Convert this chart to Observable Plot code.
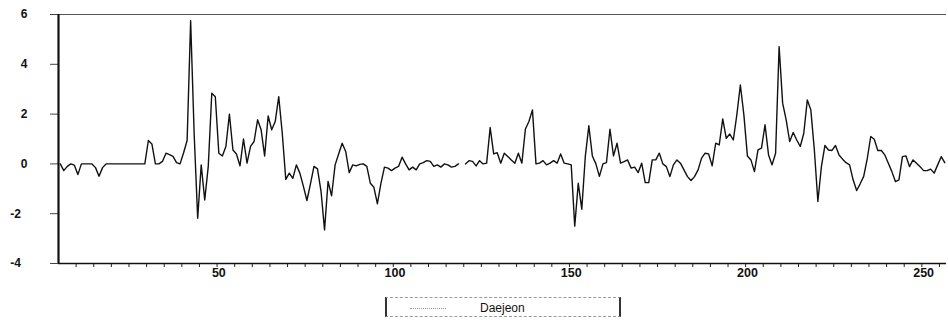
<!DOCTYPE html>
<html>
<head>
<meta charset="utf-8">
<script src="https://cdn.jsdelivr.net/npm/d3@7"></script>
<script src="https://cdn.jsdelivr.net/npm/@observablehq/plot@0.6"></script>
<style>
  html, body { margin: 0; padding: 0; background: #fff; }
  body { width: 948px; height: 323px; overflow: hidden; font-family: "Liberation Sans", Arial, sans-serif; }
  #legend { position: relative; width: 948px; height: 43px; }
  #legend .box { position: absolute; left: 385px; top: 17px; width: 236px; height: 20px;
    border: 1px dashed #9a9a9a; border-left: 2px solid #333; border-right: 2px solid #333; box-sizing: border-box; }
  #legend .sample { position: absolute; left: 410px; top: 28px; width: 36px; border-top: 1px dotted #999; }
  #legend .label { position: absolute; left: 480px; top: 21px; font-size: 12px; color: #111; }
</style>
</head>
<body>
<div id="chart"></div>
<div id="legend"><div class="box"></div><div class="sample"></div><div class="label">Daejeon</div></div>
<script>
// series: Daejeon, categories 5..256 (one value per category; null = missing)
const seriesName = "Daejeon";
const firstCategory = 5;
const daejeon = [
  0, -0.27, -0.1, 0, -0.05, -0.43, 0, 0, 0, 0,
  -0.15, -0.5, -0.15, 0, 0, 0, 0, 0, 0, 0,
  0, 0, 0, 0, 0, 0.94, 0.8, 0, 0, 0.1,
  0.43, 0.37, 0.3, 0.05, 0, 0.45, 0.94, 5.75, 1.2, -2.18,
  -0.04, -1.45, -0.1, 2.84, 2.7, 0.43, 0.32, 0.7, 2.0, 0.56,
  0.4, -0.08, 1.0, 0.03, 0.7, 0.9, 1.77, 1.37, 0.32, 1.93,
  1.37, 1.7, 2.7, 1.23, -0.62, -0.37, -0.58, -0.04, -0.37, -0.9,
  -1.47, -0.8, -0.1, -0.2, -1.1, -2.65, -0.7, -1.28, -0.04, 0.4,
  0.83, 0.5, -0.35, -0.04, -0.08, -0.02, 0, -0.1, -0.78, -0.94,
  -1.6, -0.78, -0.13, -0.17, -0.27, -0.17, -0.1, 0.27, 0, -0.24,
  -0.13, -0.24, 0, 0.05, 0.13, 0.1, -0.1, -0.04, -0.13, 0,
  -0.04, -0.13, -0.1, 0, null, 0, 0.13, 0.1, -0.08, 0.13,
  0, 0.03, 1.46, 0.4, 0.45, 0.03, 0.43, 0.3, 0.16, 0.03,
  0.43, 0.03, 1.4, 1.7, 2.17, 0, 0.03, 0.13, -0.04, 0.03,
  0.13, 0.03, 0.4, 0.03, 0, -0.04, -2.5, -0.78, -1.82, 0.3,
  1.53, 0.32, 0, -0.5, 0, 0.05, 1.39, 0.32, 0.83, 0.03,
  0.09, 0.16, -0.17, -0.13, -0.35, 0.03, -0.75, -0.75, 0.16, 0.16,
  0.43, 0, -0.11, -0.51, -0.04, 0.16, 0.03, -0.24, -0.51, -0.67,
  -0.51, -0.24, 0.23, 0.43, 0.4, -0.08, 0.83, 0.76, 1.81, 1.03,
  1.2, 0.96, 1.97, 3.17, 1.97, 0.32, 0.16, -0.31, 0.56, 0.63,
  1.57, 0.36, -0.04, 0.43, 4.71, 2.44, 1.77, 0.9, 1.26, 0.96,
  0.7, 1.23, 2.57, 2.17, 0.56, -1.51, -0.11, 0.74, 0.56, 0.54,
  0.74, 0.36, 0.19, 0.05, -0.04, -0.64, -1.07, -0.8, -0.5, 0.2,
  1.1, 0.99, 0.54, 0.54, 0.36, 0.03, -0.31, -0.71, -0.64, 0.29,
  0.32, -0.11, 0.16, 0.03, -0.11, -0.27, -0.27, -0.21, -0.37, -0.04,
  0.29, 0.05
];
const xTickLabels = [50, 100, 150, 200, 250];
const xMinorTicks = d3.range(9.5, 256, 5);
const yTickLabels = [-4, -2, 0, 2, 4, 6];

const data = daejeon.map((v, k) => ({ i: firstCategory + k, v }));
const lastCategory = firstCategory + daejeon.length - 1;

const font = "Liberation Sans, Arial, sans-serif";
const chart = Plot.plot({
  width: 948,
  height: 280,
  marginLeft: 58,
  marginRight: 2,
  marginTop: 14,
  marginBottom: 17,
  style: { fontFamily: font, background: "#fff", color: "#111" },
  x: { domain: [firstCategory - 0.5, lastCategory + 0.5] },
  y: { domain: [-4, 6] },
  marks: [
    Plot.ruleY([6], { stroke: "#555", strokeWidth: 1.2 }),
    Plot.axisY(yTickLabels, {
      tickSize: 8, tickPadding: 23, stroke: "#444",
      tickFormat: d => d < 0 ? "\u2212".replace("\u2212", "-") + Math.abs(d) + "\u2007" : String(d),
      fontSize: 12, fontWeight: "bold", label: null
    }),
    Plot.axisX(xMinorTicks, { tickSize: 4, tickFormat: () => "", stroke: "#222", label: null }),
    Plot.axisX(xTickLabels, { tickSize: 0, tickPadding: 5, fontSize: 12.5, fontWeight: "bold", label: null }),
    Plot.ruleY([-4], { stroke: "#111", strokeWidth: 1.5 }),
    Plot.ruleX([firstCategory - 0.5], { stroke: "#111", strokeWidth: 2.2 }),
    Plot.lineY(data, { x: "i", y: "v", stroke: "#111", strokeWidth: 1.4 })
  ]
});
document.getElementById("chart").appendChild(chart);
</script>
</body>
</html>
